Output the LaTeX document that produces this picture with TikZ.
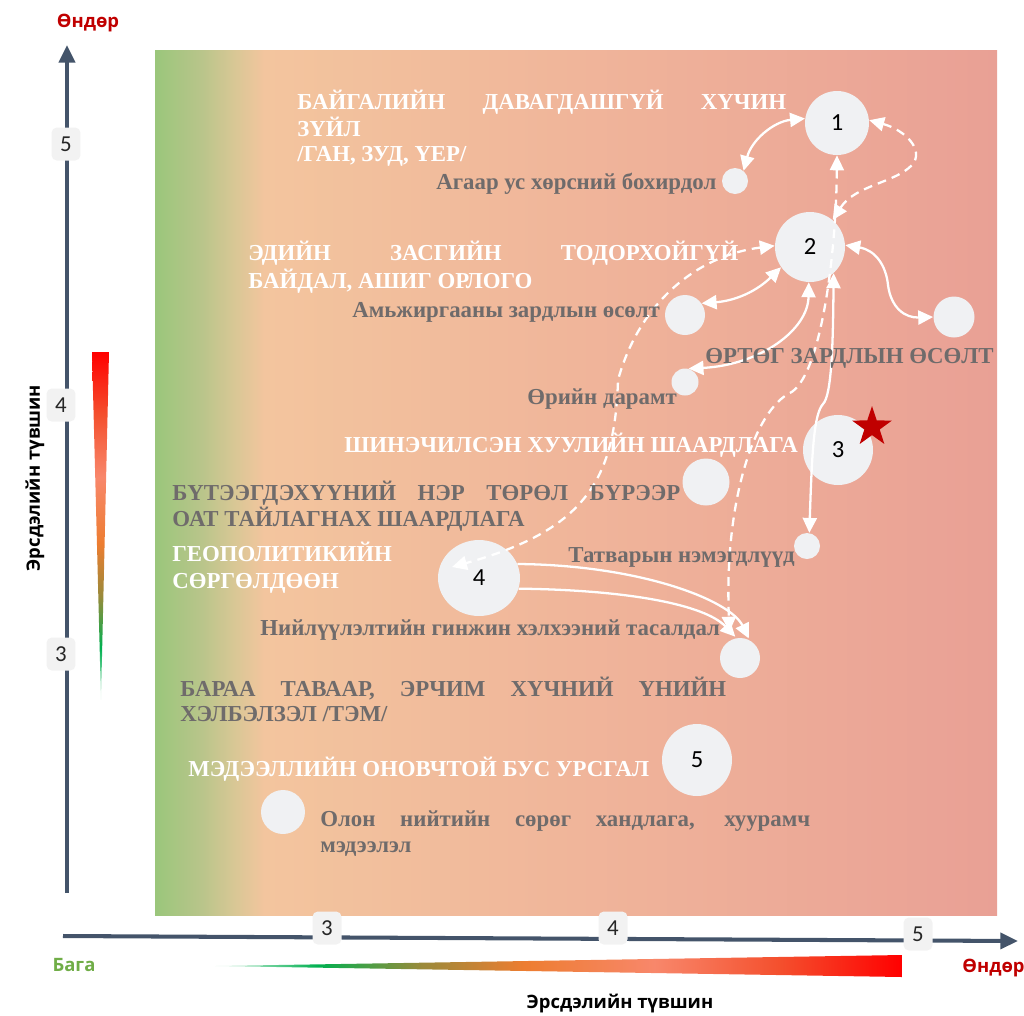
\documentclass[tikz,border=0pt]{standalone}
\usepackage{fontspec}
\setmainfont{Liberation Serif}
\newfontfamily\axisfont{Open Sans}
\newfontfamily\numfont{Carlito}
\usetikzlibrary{shapes.geometric, arrows.meta}

\definecolor{axisblue}{HTML}{44546A}
\definecolor{bubblegrey}{HTML}{F0F1F3}
\definecolor{tickfill}{HTML}{F2F2F2}
\definecolor{riskgrey}{HTML}{6F6B6B}
\definecolor{highred}{HTML}{C00000}
\definecolor{lowgreen}{HTML}{70AD47}
\definecolor{bgA}{HTML}{9AC67B}
\definecolor{bgB}{HTML}{B8C58A}
\definecolor{bgC}{HTML}{D8C795}
\definecolor{bgD}{HTML}{F3C59E}
\definecolor{bgE}{HTML}{F0B59A}
\definecolor{bgF}{HTML}{E9A095}
\definecolor{rkA}{HTML}{E3F5EA}
\definecolor{rkB}{HTML}{00B050}
\definecolor{rkC}{HTML}{9A8A3A}
\definecolor{rkD}{HTML}{ED7D31}
\definecolor{rkE}{HTML}{F8876B}
\definecolor{rkF}{HTML}{F4502E}
\definecolor{rkG}{HTML}{FF0000}

\pgfdeclarehorizontalshading{bgshade}{100bp}{color(0bp)=(bgA); color(25bp)=(bgA); color(27.7bp)=(bgB); color(29.7bp)=(bgC); color(31.5bp)=(bgD); color(50bp)=(bgE); color(75bp)=(bgF); color(100bp)=(bgF)}
\pgfdeclarehorizontalshading{riskshade}{100bp}{color(0bp)=(rkA); color(25bp)=(rkA); color(32.5bp)=(rkB); color(40bp)=(rkC); color(47.5bp)=(rkD); color(57bp)=(rkE); color(66bp)=(rkF); color(75bp)=(rkG); color(100bp)=(rkG)}

\tikzstyle{bubble} = [circle, fill=bubblegrey, inner sep=0pt, text=black, font=\numfont\fontsize{14}{14}\selectfont]
\tikzstyle{oval} = [ellipse, fill=bubblegrey, inner sep=0pt, text=black, font=\numfont\fontsize{14}{14}\selectfont]
\tikzstyle{tick} = [rectangle, rounded corners=3pt, fill=tickfill, minimum width=0.58cm, minimum height=0.66cm, inner sep=0pt, text=black!85, font=\numfont\fontsize{13}{13}\selectfont]
\tikzstyle{capwhite} = [anchor=base west, inner sep=0pt, text=white, font=\bfseries\fontsize{13}{15}\selectfont]
\tikzstyle{capgrey} = [anchor=base west, inner sep=0pt, text=riskgrey, font=\bfseries\fontsize{13}{15}\selectfont]
\tikzstyle{axislabel} = [inner sep=0pt, font=\axisfont\bfseries\fontsize{10.5}{12}\selectfont]
\tikzstyle{link} = [white, line width=1.3pt, <->, >={Triangle[length=8.5pt,width=8pt]}]
\tikzstyle{dashlink} = [link, dash pattern=on 5pt off 3.5pt]
\tikzstyle{onelink} = [link, -{Triangle[length=8.5pt,width=8pt]}]
\tikzstyle{riskaxis} = [axisblue, line width=2.3pt, -{Triangle[length=10pt,width=9pt]}]

\begin{document}
\begin{tikzpicture}[x=0.02cm, y=-0.02cm]
\useasboundingbox (0,0) rectangle (1024,1015);

% background field
\shade[shading=bgshade] (155,50) rectangle (997,915);

% axes
\coordinate (yfoot) at (67,893);
\coordinate (ytop) at (67,45);
\coordinate (xfoot) at (63,936);
\coordinate (xtip) at (1018,941);
\draw[riskaxis] (yfoot) -- (ytop);
\draw[riskaxis] (xfoot) -- (xtip);

\node[tick] (y5) at (66,144) {5};
\node[tick] (y4) at (61,405) {4};
\node[tick] (y3) at (61,654) {3};
\node[tick] (x3) at (327,928) {3};
\node[tick] (x4) at (613,928) {4};
\node[tick] (x5) at (918,934) {5};

% risk wedges
\shade[shading=riskshade, shading angle=90] (92,352) -- (109,352) -- (101,700) -- cycle;
\shade[shading=riskshade] (215,966) -- (902,955) -- (902,977) -- cycle;

\node[axislabel, text=highred] (hightop) at (88,23) {Өндөр};
\node[axislabel, text=highred, anchor=west] (highright) at (962,968) {Өндөр};
\node[axislabel, text=lowgreen] (low) at (74,965) {Бага};
\node[axislabel] (xlabel) at (620,1003) {Эрсдэлийн түвшин};
\node[axislabel, rotate=90] (ylabel) at (35,478) {Эрсдэлийн түвшин};

% bubbles
\node[bubble, minimum size=1.28cm] (b1) at (837,123) {1};
\node[bubble, minimum size=1.4cm] (b2) at (810,247) {2};
\node[bubble, minimum size=1.4cm] (b3) at (838,450) {3};
\node[oval, minimum width=1.64cm, minimum height=1.52cm] (b4) at (479,578) {4};
\node[oval, minimum width=1.4cm, minimum height=1.44cm] (b5) at (697,760) {5};
\node[bubble, minimum size=0.52cm] (bAir) at (735,181) {};
\node[bubble, minimum size=0.8cm] (bLiving) at (685,315) {};
\node[bubble, minimum size=0.82cm] (bCost) at (954,317) {};
\node[bubble, minimum size=0.54cm] (bDebt) at (685,382) {};
\node[bubble, minimum size=0.94cm] (bProd) at (706,482) {};
\node[bubble, minimum size=0.52cm] (bTax) at (807,546) {};
\node[bubble, minimum size=0.8cm] (bSupply) at (740,658) {};
\node[bubble, minimum size=0.88cm] (bPublic) at (283,812) {};
\node[star, star points=5, star point ratio=2.6, fill=highred, inner sep=0pt, minimum size=0.84cm] (flag) at (872,427) {};
\coordinate (b4in) at (452,567);

% links
\draw[link] (b1.172) to[bend right=35] (bAir.50);
\draw[dashlink] (b1.5) .. controls (905,130) and (925,150) .. (912,165) .. controls (895,183) and (855,185) .. (b2.50);
\draw[dashlink, shorten >=5pt] (b1.south) .. controls (836,260) and (820,377) .. (790,393) .. controls (755,410) and (724,500) .. (bSupply.120);
\draw[dashlink] (b2.178) .. controls (700,255) and (640,300) .. (618,380) .. controls (615,480) and (585,530) .. (b4in);
\draw[link] (bLiving.35) to[bend right=20] (b2.215);
\draw[link] (b2.3) .. controls (875,250) and (886,265) .. (888,285) .. controls (891,308) and (905,318) .. (bCost.180);
\draw[link] (b2.268) .. controls (808,330) and (760,365) .. (bDebt.75);
\draw[link] (b2.312) .. controls (833,340) and (832,395) .. (823,404) .. controls (814,414) and (812,450) .. (bTax.80);
\draw[onelink, shorten >=1pt] (b4.20) .. controls (640,565) and (730,600) .. (bSupply.62);
\draw[onelink, shorten >=1pt] (b4.-15) .. controls (630,590) and (705,605) .. (bSupply.100);

% texts
\node[capwhite] (t1a) at (297,109) {\makebox[9.78cm][s]{БАЙГАЛИЙН ДАВАГДАШГҮЙ ХҮЧИН}};
\node[capwhite] (t1b) at (297,136) {ЗҮЙЛ};
\node[capwhite] (t1c) at (297,161) {/ГАН, ЗУД, ҮЕР/};
\node[capgrey] (t2) at (436,189) {Агаар ус хөрсний бохирдол};
\node[capwhite] (t3a) at (248,260) {\makebox[9.8cm][s]{ЭДИЙН ЗАСГИЙН ТОДОРХОЙГҮЙ}};
\node[capwhite] (t3b) at (248,288) {БАЙДАЛ, АШИГ ОРЛОГО};
\node[capgrey] (t4) at (352,317) {Амьжиргааны зардлын өсөлт};
\node[capgrey] (t5) at (705,363) {ӨРТӨГ ЗАРДЛЫН ӨСӨЛТ};
\node[capgrey] (t6) at (527,404) {Өрийн дарамт};
\node[capwhite] (t7) at (344,452) {ШИНЭЧИЛСЭН ХУУЛИЙН ШААРДЛАГА};
\node[capgrey] (t8a) at (172,500) {\makebox[10.16cm][s]{БҮТЭЭГДЭХҮҮНИЙ НЭР ТӨРӨЛ БҮРЭЭР}};
\node[capgrey] (t8b) at (172,526) {ОАТ ТАЙЛАГНАХ ШААРДЛАГА};
\node[capwhite] (t9a) at (172,561) {ГЕОПОЛИТИКИЙН};
\node[capwhite] (t9b) at (172,588) {СӨРГӨЛДӨӨН};
\node[capgrey] (t10) at (568,562) {Татварын нэмэгдлүүд};
\node[capgrey] (t11) at (260,635) {Нийлүүлэлтийн гинжин хэлхээний тасалдал};
\node[capgrey] (t12a) at (180,696) {\makebox[10.92cm][s]{БАРАА ТАВААР, ЭРЧИМ ХҮЧНИЙ ҮНИЙН}};
\node[capgrey] (t12b) at (180,721) {ХЭЛБЭЛЗЭЛ /ТЭМ/};
\node[capwhite] (t13) at (188,776) {МЭДЭЭЛЛИЙН ОНОВЧТОЙ БУС УРСГАЛ};
\node[capgrey] (t14a) at (320,826) {\makebox[9.8cm][s]{Олон нийтийн сөрөг хандлага, хуурамч}};
\node[capgrey] (t14b) at (320,852) {мэдээлэл};
\end{tikzpicture}
\end{document}
